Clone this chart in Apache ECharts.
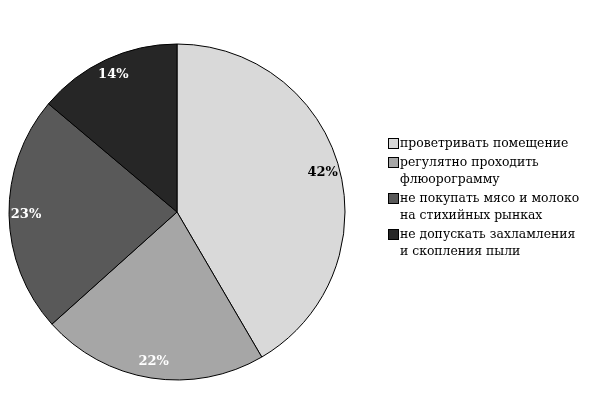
<!DOCTYPE html>
<html><head><meta charset="utf-8">
<script src="https://cdn.jsdelivr.net/npm/echarts@6/dist/echarts.min.js"></script>
<style>html,body{margin:0;padding:0;background:#fff}#c{width:590px;height:394px}</style>
</head><body><div id="c"></div>
<script>
const categories = ['проветривать помещение', 'регулятно проходить\nфлюорограмму', 'не покупать мясо и молоко\nна стихийных рынках', 'не допускать захламления\nи скопления пыли'];
const values = [42, 22, 23, 14];
const colors = ['#d9d9d9', '#a6a6a6', '#595959', '#262626'];
const labelColors = ['#000', '#fff', '#fff', '#fff'];

const data = categories.map((n, i) => ({ name: n, value: values[i], itemStyle: { color: colors[i] } }));
const labelData = categories.map((n, i) => ({ name: n, value: values[i], label: { color: labelColors[i] } }));

const FS = 12.4;
const rich = {
  g: { width: 2 },
  sp: { width: 11 },
  t: { fontFamily: 'DejaVu Serif', fontSize: FS, lineHeight: 17, color: '#000' }
};
colors.forEach((c, i) => {
  rich['b' + i] = { width: 9, height: 9, backgroundColor: c, borderColor: '#000', borderWidth: 1 };
});

const chart = echarts.init(document.getElementById('c'), null, { renderer: 'canvas' });
chart.setOption({
  animation: false,
  legend: {
    orient: 'vertical',
    left: 379,
    top: 130,
    icon: 'none',
    itemWidth: 0,
    itemHeight: 0,
    itemGap: 2,
    data: categories,
    textStyle: { fontFamily: 'DejaVu Serif', fontSize: FS, lineHeight: 17, color: '#000', rich: rich },
    formatter: function (name) {
      const i = categories.indexOf(name);
      const lines = name.split('\n');
      return lines.map((l, k) => (k === 0 ? '{b' + i + '|}{g|}' : '{sp|}') + '{t|' + l + '}').join('\n');
    }
  },
  series: [{
    type: 'pie',
    center: [177, 212],
    radius: [0, 168],
    startAngle: 90,
    clockwise: true,
    label: { show: false },
    labelLine: { show: false },
    itemStyle: { borderColor: '#000', borderWidth: 1 },
    emphasis: { disabled: true },
    data: data
  }, {
    type: 'pie',
    center: [177, 212],
    radius: [126, 170],
    startAngle: 90,
    clockwise: true,
    silent: true,
    itemStyle: { color: 'rgba(0,0,0,0)', borderWidth: 0 },
    label: { show: true, position: 'inside', formatter: '{c}%', fontFamily: 'DejaVu Serif', fontWeight: 'bold', fontSize: 13 },
    labelLine: { show: false },
    emphasis: { disabled: true },
    data: labelData
  }]
});
</script></body></html>
